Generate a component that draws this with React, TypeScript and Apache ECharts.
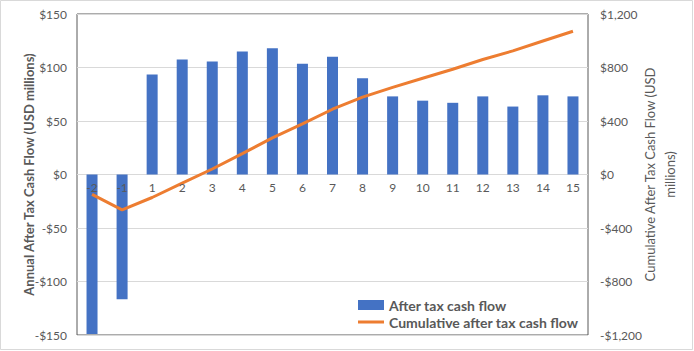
import React, { useEffect, useRef } from "react";
import * as echarts from "echarts";

const categories = ["-2", "-1", "1", "2", "3", "4", "5", "6", "7", "8", "9", "10", "11", "12", "13", "14", "15"];
const annualCashFlow = [-149, -116.5, 93.5, 107.5, 105.5, 115, 118, 103.5, 110, 90, 73, 69, 67, 73, 63.5, 74, 73];
const cumulativeCashFlow = [-149, -265, -172, -65, 41, 156, 274, 378, 488, 578, 651, 720, 787, 860, 924, 998, 1071];
const leftTicks = { min: -150, max: 150, interval: 50 };
const rightTicks = { min: -1200, max: 1200, interval: 400 };

const FONT = "Lato, 'Open Sans', sans-serif";
const money = (v: number) => (v < 0 ? "-$" : "$") + Math.abs(v).toLocaleString("en-US");
const lineIcon = "path://M0,0L0.01,0M0,10L0.01,10M0,3.5H26V6.5H0Z";

const GRID_TOP = 14;
const GRID_BOTTOM = 16;
const CHART_H = 351;

export default function App() {
  const ref = useRef<HTMLDivElement>(null);
  useEffect(() => {
    if (!ref.current) return;
    const chart = echarts.init(ref.current, null, { renderer: "svg" });
    const plotH = CHART_H - GRID_TOP - GRID_BOTTOM;
    // distance from plot bottom to the zero line of the left axis
    const zeroOffset = (plotH * (0 - leftTicks.min)) / (leftTicks.max - leftTicks.min);
    chart.setOption({
      animation: false,
      backgroundColor: "#ffffff",
      textStyle: { fontFamily: FONT },
      grid: {
        left: 77,
        right: 106,
        top: GRID_TOP,
        bottom: GRID_BOTTOM,
        containLabel: false,
        outerBoundsMode: "none",
        show: true,
        borderColor: "#595959",
        borderWidth: 1,
      },
      graphic: [
        {
          type: "rect",
          shape: { x: 0.5, y: 0.5, width: 692, height: 349 },
          style: { fill: "none", stroke: "#d9d9d9", lineWidth: 1 },
          silent: true,
        },
      ],
      legend: {
        orient: "vertical",
        left: 358,
        top: 298,
        padding: 0,
        itemWidth: 26,
        itemHeight: 10,
        itemGap: 3,
        textStyle: { fontFamily: FONT, fontSize: 14, fontWeight: "bold", color: "#595959" },
        data: [
          { name: "After tax cash flow", icon: "rect" },
          { name: "Cumulative after tax cash flow", icon: lineIcon },
        ],
      },
      xAxis: {
        type: "category",
        data: categories,
        offset: -zeroOffset,
        z: 10,
        axisLine: { show: false, onZero: false },
        axisTick: { show: false },
        axisLabel: { color: "#595959", fontSize: 12, fontFamily: FONT, margin: 7 },
      },
      yAxis: [
        {
          type: "value",
          min: leftTicks.min,
          max: leftTicks.max,
          interval: leftTicks.interval,
          name: "Annual After Tax Cash Flow (USD millions)",
          nameLocation: "middle",
          nameGap: 42,
          nameMoveOverlap: false,
          nameTextStyle: { color: "#595959", fontSize: 13, fontWeight: "bold", fontFamily: FONT },
          axisLine: { show: false },
          axisTick: { show: false },
          axisLabel: { color: "#595959", fontSize: 12, fontFamily: FONT, formatter: money, margin: 10 },
          splitLine: { lineStyle: { color: "#d9d9d9", width: 1 } },
        },
        {
          type: "value",
          position: "right",
          min: rightTicks.min,
          max: rightTicks.max,
          interval: rightTicks.interval,
          name: "Cumulative After Tax Cash Flow (USD\nmillions)",
          nameLocation: "middle",
          nameGap: 52,
          nameMoveOverlap: false,
          nameTextStyle: { color: "#595959", fontSize: 13, fontWeight: "normal", fontFamily: FONT, lineHeight: 20 },
          axisLine: { show: false },
          axisTick: { show: false },
          axisLabel: { color: "#595959", fontSize: 12, fontFamily: FONT, formatter: money, margin: 12 },
          splitLine: { show: false },
        },
      ],
      series: [
        {
          name: "After tax cash flow",
          type: "bar",
          data: annualCashFlow,
          yAxisIndex: 0,
          barWidth: 11,
          itemStyle: { color: "#4472C4" },
        },
        {
          name: "Cumulative after tax cash flow",
          type: "line",
          data: cumulativeCashFlow,
          yAxisIndex: 1,
          symbol: "none",
          lineStyle: { color: "#ED7D31", width: 3 },
          itemStyle: { color: "#ED7D31" },
        },
      ],
    });
    return () => chart.dispose();
  }, []);
  return <div ref={ref} style={{ position: "fixed", left: 0, top: 0, width: 694, height: 351 }} />;
}
